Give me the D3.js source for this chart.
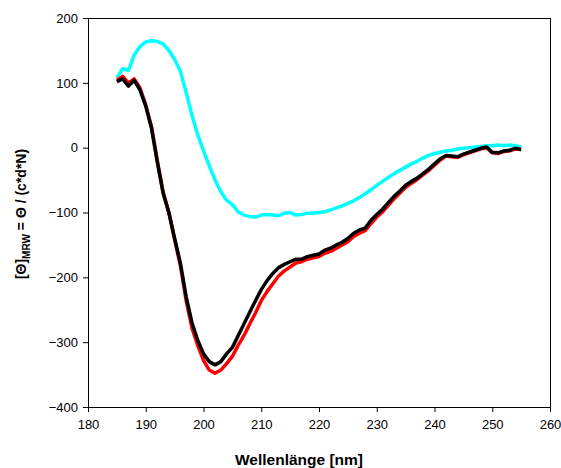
<!DOCTYPE html>
<html>
<head>
<meta charset="utf-8">
<script src="https://cdn.jsdelivr.net/npm/d3@7"></script>
<style>
  body { margin: 0; background: #fff; }
  text { font-family: 'Liberation Sans', Arial, sans-serif; }
</style>
</head>
<body>
<div id="chart"></div>
<script>
// wavelengths in nm, one point per nm
const wavelengths = d3.range(185, 256);

const cyan_values = [
  108, 122, 119, 143, 156, 163, 165, 164, 160, 150,
  136, 118, 85, 50, 20, -5, -28, -50, -68, -81,
  -88, -99, -104, -106, -107, -104, -103, -104, -105, -101,
  -100, -104, -103, -101, -101, -100, -99, -96, -93, -90,
  -86, -82, -77, -71, -65, -58, -52, -46, -40, -35,
  -30, -25, -21, -16, -12, -9, -7, -5, -4, -2,
  -1, 0, 1, 2, 3, 3, 4, 3, 4, 3, 1
];

const red_values = [
  104, 110, 100, 106, 92, 66, 32, -20, -68, -100,
  -142, -182, -236, -278, -305, -328, -343, -348, -343, -333,
  -322, -305, -290, -272, -255, -236, -222, -210, -198, -190,
  -184, -178, -176, -172, -170, -168, -163, -160, -155, -150,
  -145, -137, -132, -128, -117, -107, -99, -89, -79, -70,
  -61, -55, -49, -42, -35, -27, -19, -13, -14, -15,
  -11, -8, -5, -2, 0, -8, -9, -6, -5, -2, -3
];

const black_values = [
  102, 106, 95, 104, 89, 64, 30, -22, -70, -100,
  -140, -178, -230, -270, -297, -318, -330, -335, -330, -318,
  -308, -290, -272, -254, -236, -219, -205, -194, -185, -180,
  -176, -172, -172, -168, -166, -164, -158, -155, -150, -146,
  -140, -132, -127, -124, -112, -103, -95, -85, -75, -67,
  -58, -52, -47, -40, -33, -25, -17, -12, -13, -14,
  -10, -7, -4, -1, 1, -7, -8, -5, -4, -1, -3
];

const x_ticks = [180, 190, 200, 210, 220, 230, 240, 250, 260];
const y_ticks = [-400, -300, -200, -100, 0, 100, 200];

const series = [
  { name: 'cyan', values: cyan_values, color: '#00ffff' },
  { name: 'red', values: red_values, color: '#ff0000' },
  { name: 'black', values: black_values, color: '#000000' }
];

// set the dimensions and margins of the graph
const margin = { left: 88, right: 11, top: 18, bottom: 61 };
const width = 561 - margin.left - margin.right;
const height = 468 - margin.top - margin.bottom;

const svg = d3.select('#chart')
  .append('svg')
  .attr('width', 561)
  .attr('height', 468);

const g = svg.append('g')
  .attr('transform', `translate(${margin.left}, ${margin.top})`);

const x = d3.scaleLinear().domain([180, 260]).range([0, width]);
const y = d3.scaleLinear().domain([-400, 200]).range([height, 0]);

// plot area frame
g.append('rect')
  .attr('x', 0.5)
  .attr('y', 0.5)
  .attr('width', width)
  .attr('height', height)
  .attr('fill', 'none')
  .attr('stroke', '#000')
  .attr('stroke-width', 1);

// axes
const x_axis = g.append('g')
  .attr('transform', `translate(0, ${height})`)
  .call(d3.axisBottom(x).tickValues(x_ticks).tickSizeOuter(0).tickSize(5).tickPadding(8));

const y_axis = g.append('g')
  .call(d3.axisLeft(y).tickValues(y_ticks).tickSizeOuter(0).tickSize(5).tickPadding(5));

[x_axis, y_axis].forEach((ax) => {
  ax.select('.domain').attr('stroke', '#000').attr('stroke-width', 1);
  ax.selectAll('.tick line').attr('stroke', '#000');
  ax.selectAll('.tick text')
    .attr('fill', '#000')
    .style('font-size', '13px')
    .style('font-family', "'Liberation Sans', Arial, sans-serif");
});

// lines
const line = d3.line()
  .x((d, i) => x(wavelengths[i]))
  .y((d) => y(d));

series.forEach((s) => {
  g.append('path')
    .datum(s.values)
    .attr('d', line)
    .attr('fill', 'none')
    .attr('stroke', s.color)
    .attr('stroke-width', 3.5)
    .attr('stroke-linejoin', 'round');
});

// axis titles
svg.append('text')
  .attr('x', 299)
  .attr('y', 465)
  .attr('text-anchor', 'middle')
  .style('font-size', '15.5px')
  .style('font-weight', 'bold')
  .text('Wellenlänge [nm]');

const y_title = svg.append('text')
  .attr('transform', `translate(26, 214) rotate(-90)`)
  .attr('text-anchor', 'middle')
  .style('font-size', '14px')
  .style('font-weight', 'bold');
y_title.append('tspan').text('[Θ]');
y_title.append('tspan').attr('dy', 4).style('font-size', '10px').text('MRW');
y_title.append('tspan').attr('dy', -4).text(' = Θ / (c*d*N)');
</script>
</body>
</html>
